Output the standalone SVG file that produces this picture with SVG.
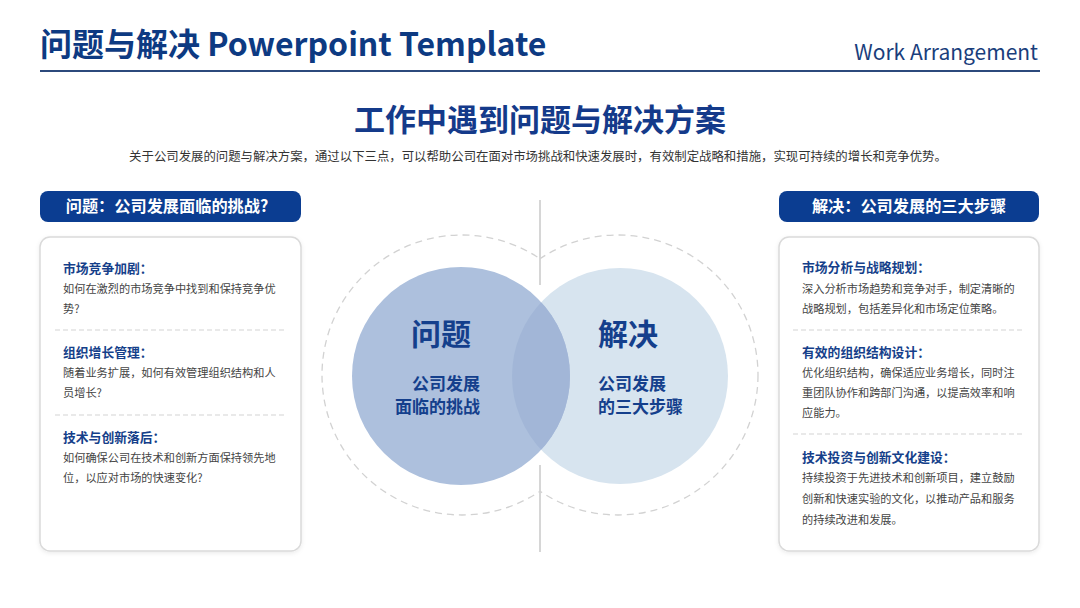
<svg xmlns="http://www.w3.org/2000/svg" width="1080" height="608" viewBox="0 0 1080 608">
<style>
.f{font-family:"Noto Sans CJK SC","Noto Sans",sans-serif}
.h{font-size:12.8px;font-weight:bold;fill:#153f8a}
.b{font-size:11.2px;fill:#444}
.pill{fill:#0b3d91}
.pt{font-size:16.2px;font-weight:bold;fill:#fff}
.card{fill:#fff;stroke:#dadada;stroke-width:1.5}
.div{stroke:#d4d4d4;stroke-width:1.2;stroke-dasharray:5 3}
.ring{fill:none;stroke:#d2d2d2;stroke-width:1.3;stroke-dasharray:7 5}
.big{font-size:30px;font-weight:bold;fill:#143f8c}
.mid{font-size:17px;font-weight:bold;fill:#143f8c}
</style>
<defs>
<clipPath id="clipL"><rect x="0" y="0" width="540" height="608"/></clipPath>
<clipPath id="clipR"><rect x="540" y="0" width="540" height="608"/></clipPath>
<clipPath id="clipRC"><circle cx="620" cy="376" r="108"/></clipPath>
<filter id="sh" x="-10%" y="-10%" width="120%" height="120%"><feDropShadow dx="0" dy="1.5" stdDeviation="2" flood-color="#000" flood-opacity="0.08"/></filter>
</defs>
<rect width="1080" height="608" fill="#fff"/>
<g id="header">
<text class="f" x="40" y="56" font-size="32" font-weight="bold" fill="#0d3a82">问题与解决 Powerpoint Template</text>
<text class="f" x="1038" y="60" font-size="21" fill="#1a3e7c" text-anchor="end">Work Arrangement</text>
<line x1="40" y1="71" x2="1040" y2="71" stroke="#2c4a7c" stroke-width="2"/>
</g>
<g id="title">
<text class="f" x="540" y="131" font-size="31" font-weight="bold" fill="#143a8a" text-anchor="middle">工作中遇到问题与解决方案</text>
<text class="f" x="538" y="161" font-size="12.4" fill="#333" text-anchor="middle">关于公司发展的问题与解决方案，通过以下三点，可以帮助公司在面对市场挑战和快速发展时，有效制定战略和措施，实现可持续的增长和竞争优势。</text>
</g>
<g id="connectors">
<line x1="540" y1="200" x2="540" y2="285" stroke="#d6d6d6" stroke-width="2"/>
<line x1="540" y1="465" x2="540" y2="552" stroke="#d6d6d6" stroke-width="2"/>
<circle class="ring" cx="462" cy="375" r="140" clip-path="url(#clipL)"/>
<circle class="ring" cx="618" cy="375" r="140" clip-path="url(#clipR)"/>
</g>
<g id="venn-solution">
<circle cx="620" cy="376" r="108" fill="#d7e4ef"/>
<text class="f big" x="598" y="345">解决</text>
<text class="f mid" x="598" y="390">公司发展</text>
<text class="f mid" x="598" y="413">的三大步骤</text>
</g>
<g id="venn-problem">
<circle cx="461" cy="376" r="109" fill="#adc0dd"/>
<circle cx="461" cy="376" r="109" fill="#a2b6d7" clip-path="url(#clipRC)"/>
<text class="f big" x="441" y="345" text-anchor="middle">问题</text>
<text class="f mid" x="480" y="390" text-anchor="end">公司发展</text>
<text class="f mid" x="480" y="413" text-anchor="end">面临的挑战</text>
</g>
<g id="left-panel">
<rect class="pill" x="40" y="191" width="261" height="31" rx="8"/>
<text class="f pt" x="167" y="212" text-anchor="middle">问题：公司发展面临的挑战?</text>
<rect class="card" x="40" y="237" width="261" height="314" rx="10" filter="url(#sh)"/>
<text class="f h" x="63" y="273">市场竞争加剧：</text>
<text class="f b" x="63" y="293">如何在激烈的市场竞争中找到和保持竞争优</text>
<text class="f b" x="63" y="313">势?</text>
<line class="div" x1="55" y1="330" x2="287" y2="330"/>
<text class="f h" x="63" y="357">组织增长管理：</text>
<text class="f b" x="63" y="377">随着业务扩展，如何有效管理组织结构和人</text>
<text class="f b" x="63" y="397">员增长?</text>
<line class="div" x1="55" y1="415" x2="287" y2="415"/>
<text class="f h" x="63" y="442">技术与创新落后：</text>
<text class="f b" x="63" y="462">如何确保公司在技术和创新方面保持领先地</text>
<text class="f b" x="63" y="482">位，以应对市场的快速变化?</text>
</g>
<g id="right-panel">
<rect class="pill" x="779" y="191" width="260" height="31" rx="8"/>
<text class="f pt" x="909" y="212" text-anchor="middle">解决：公司发展的三大步骤</text>
<rect class="card" x="779" y="237" width="260" height="314" rx="10" filter="url(#sh)"/>
<text class="f h" x="802" y="272">市场分析与战略规划：</text>
<text class="f b" x="802" y="293">深入分析市场趋势和竞争对手，制定清晰的</text>
<text class="f b" x="802" y="313">战略规划，包括差异化和市场定位策略。</text>
<line class="div" x1="793" y1="330" x2="1025" y2="330"/>
<text class="f h" x="802" y="357">有效的组织结构设计：</text>
<text class="f b" x="802" y="377">优化组织结构，确保适应业务增长，同时注</text>
<text class="f b" x="802" y="397">重团队协作和跨部门沟通，以提高效率和响</text>
<text class="f b" x="802" y="417">应能力。</text>
<line class="div" x1="793" y1="434" x2="1025" y2="434"/>
<text class="f h" x="802" y="462">技术投资与创新文化建设：</text>
<text class="f b" x="802" y="482">持续投资于先进技术和创新项目，建立鼓励</text>
<text class="f b" x="802" y="503">创新和快速实验的文化，以推动产品和服务</text>
<text class="f b" x="802" y="524">的持续改进和发展。</text>
</g>
</svg>
